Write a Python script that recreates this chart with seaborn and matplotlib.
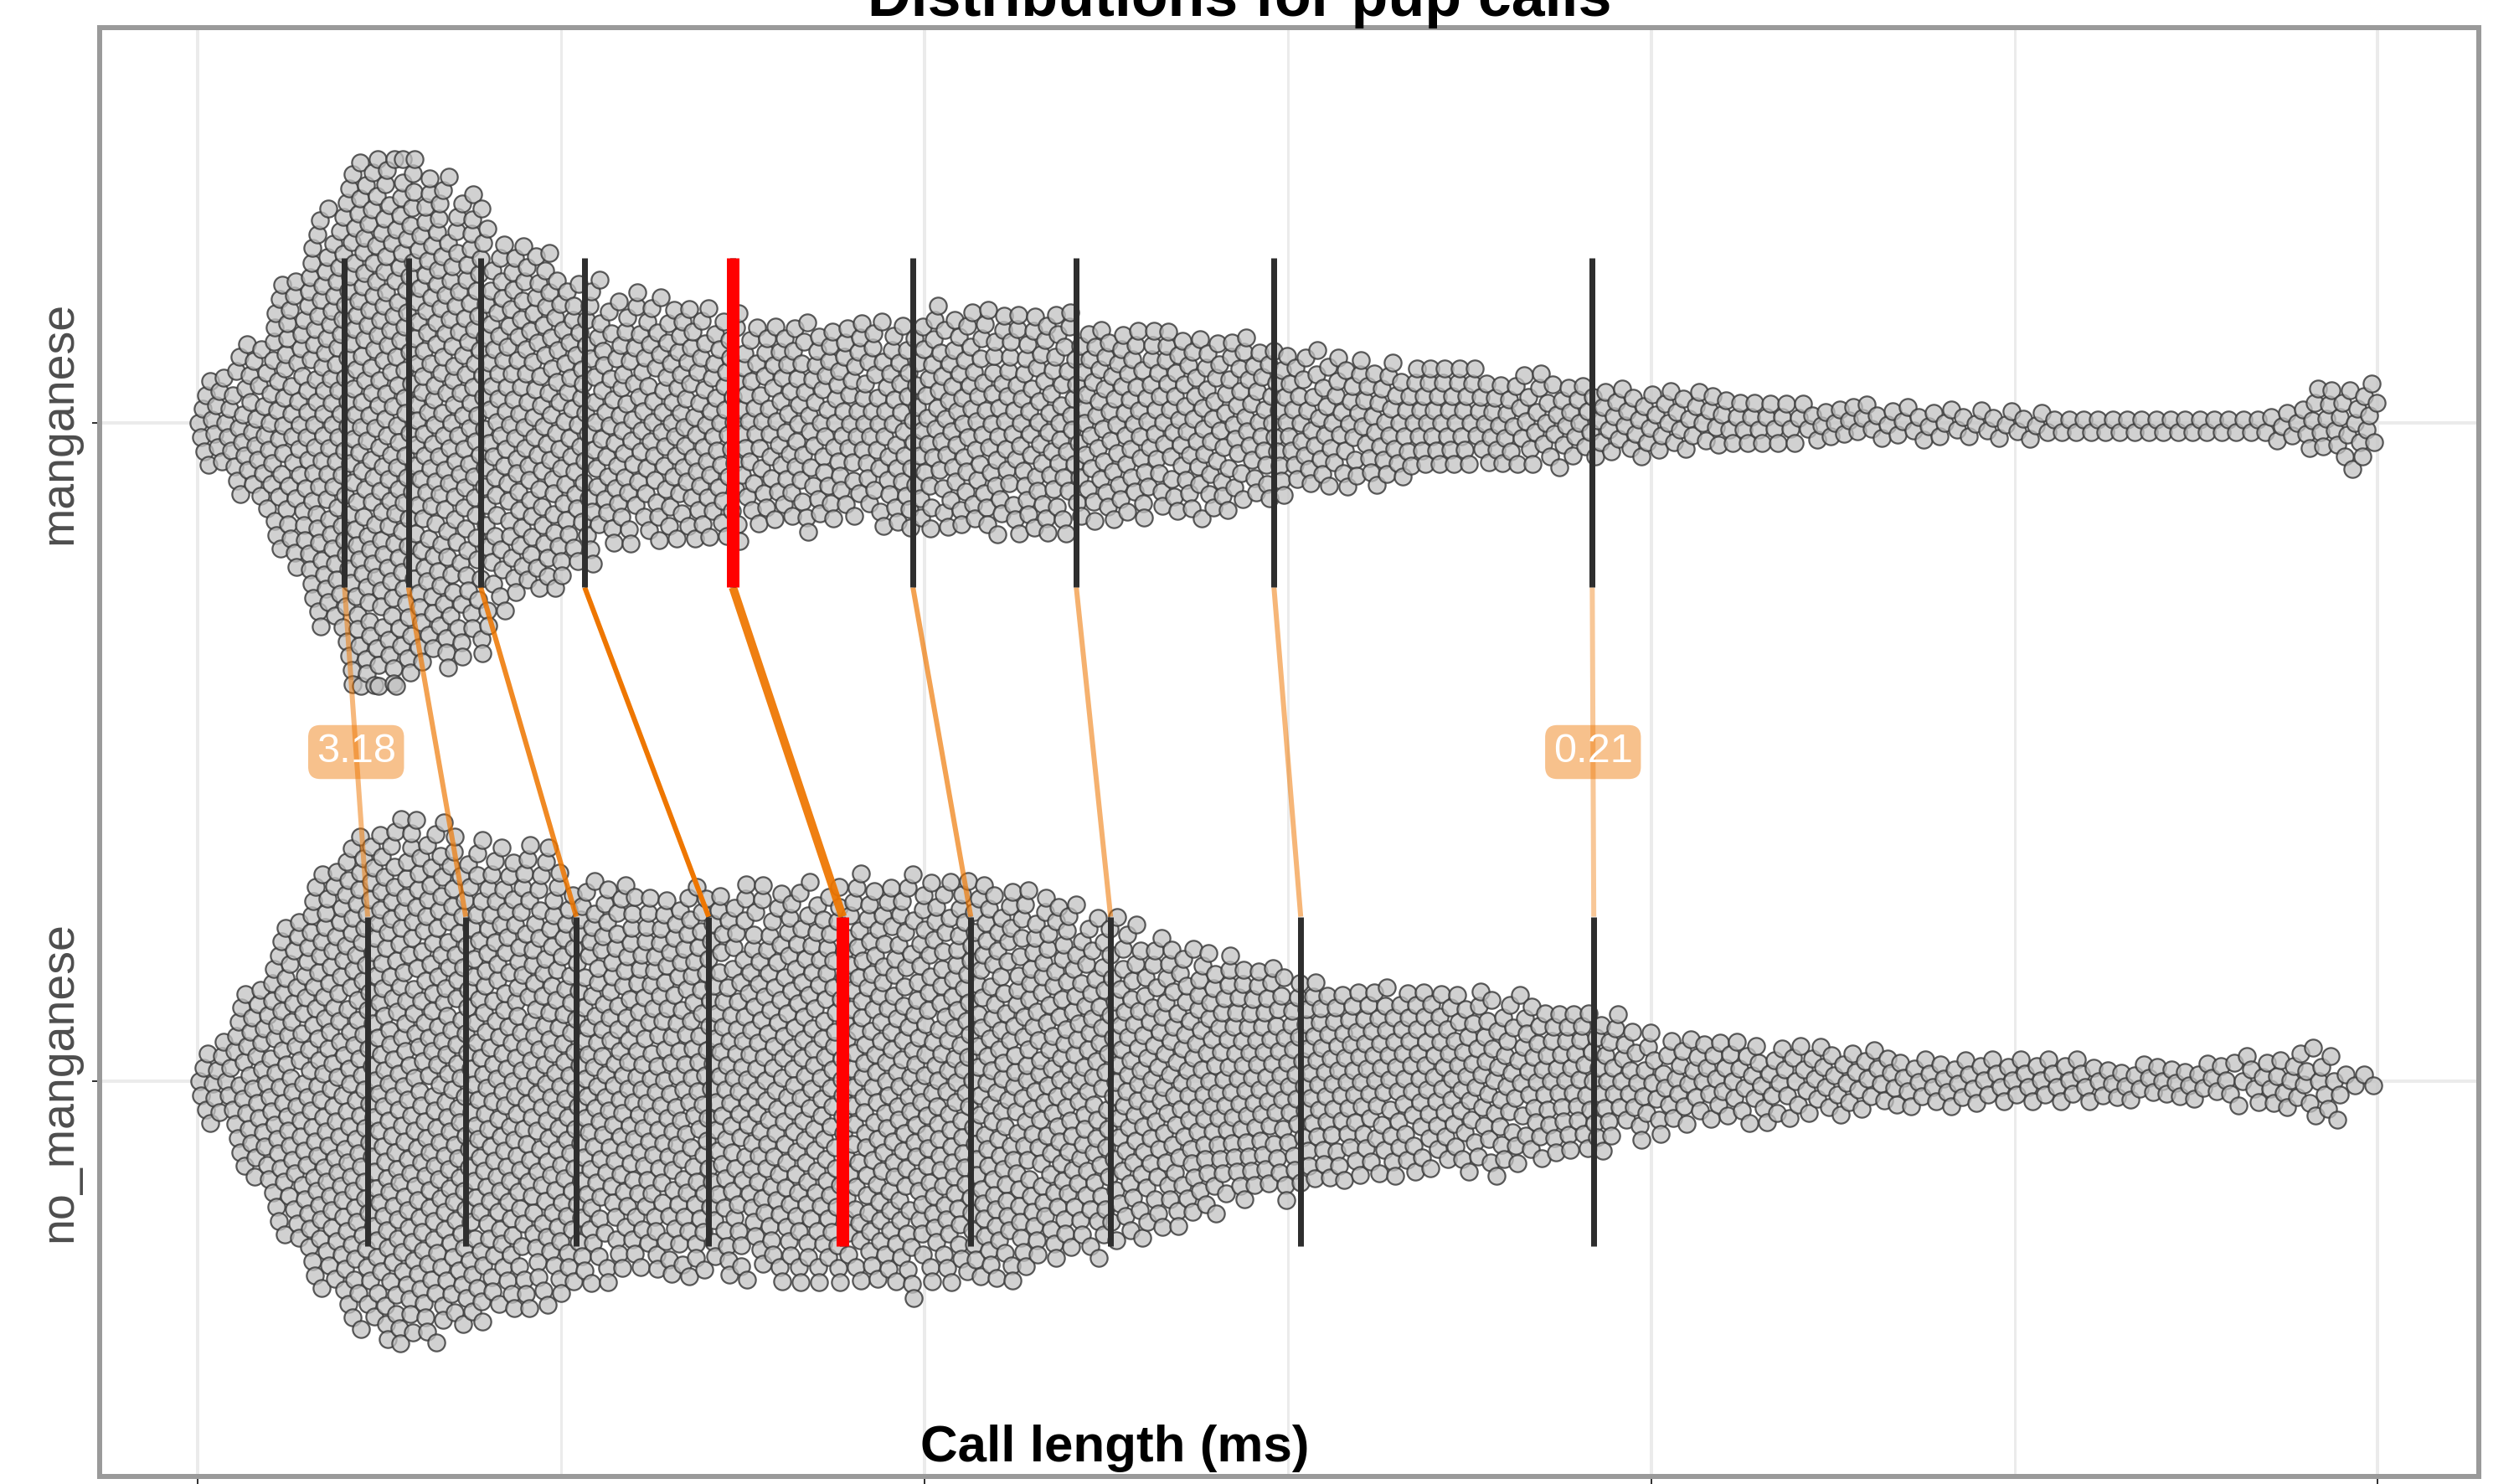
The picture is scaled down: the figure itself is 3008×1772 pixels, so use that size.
import numpy as np
import pandas as pd
import matplotlib
matplotlib.use("Agg")
import matplotlib.pyplot as plt
import seaborn as sns

# ---------------- data ----------------
groups = ["manganese", "no_manganese"]
title_text = "Distributions for pup calls"
xlabel_text = "Call length (ms)"
x_major_ticks = [0, 100, 200, 300]
x_minor_ticks = [50, 150, 250]

bin_width_ms = 5  # counts of calls per 5 ms bin, 0-300 ms
counts_manganese = [19, 30, 52, 79, 102, 101, 92, 83, 67, 62,
                    52, 44, 44, 44, 42, 36, 37, 36, 36, 38,
                    40, 40, 40, 40, 36, 35, 34, 33, 31, 29,
                    25, 24, 23, 21, 20, 18, 17, 16, 14, 13,
                    12, 11, 10, 9, 8, 8, 7, 7, 6, 6,
                    6, 5, 5, 5, 5, 5, 5, 7, 13, 15]
counts_no_manganese = [16, 37, 60, 80, 95, 99, 96, 90, 86, 84,
                       76, 72, 71, 72, 71, 70, 71, 71, 73, 74,
                       73, 75, 71, 66, 62, 58, 53, 50, 46, 43,
                       40, 37, 36, 35, 33, 32, 30, 28, 26, 20,
                       17, 16, 15, 14, 13, 12, 11, 10, 10, 9,
                       9, 9, 8, 8, 8, 8, 9, 11, 12, 4]

deciles_manganese = [20.2, 29.0, 38.95, 53.25, 73.64, 98.42, 120.9, 148.1, 191.9]
deciles_no_manganese = [23.38, 36.88, 52.09, 70.3, 88.74, 106.38, 125.62, 151.78, 192.11]


def expand(counts):
    vals = []
    for k, c in enumerate(counts):
        if c > 0:
            vals.append(k * bin_width_ms + (np.arange(c) + 0.5) * bin_width_ms / c)
    return np.concatenate(vals)


df = pd.DataFrame({
    "length": np.r_[expand(counts_manganese), expand(counts_no_manganese)],
    "group": [groups[0]] * sum(counts_manganese) + [groups[1]] * sum(counts_no_manganese),
})

# ---------------- style ----------------
sns.set_style("white")
plt.rcParams["font.family"] = ["Liberation Sans", "DejaVu Sans"]

DPI = 100
PX = 72 / DPI  # points per pixel
fig = plt.figure(figsize=(30.08, 17.72), dpi=DPI)
ax = fig.add_axes([119 / 3008, 9 / 1772, 2841 / 3008, 1730 / 1772])

place_d = 16.5   # px, spacing used by the swarm algorithm
draw_d = 22.5    # px, drawn marker diameter
edge_lw = 1.3    # pt (placement)
draw_lw = 1.6    # pt (drawn)

sns.swarmplot(data=df, x="length", y="group", order=groups, orient="h", ax=ax,
              size=place_d * PX - edge_lw, color="#d2d2d2", edgecolor="#3a3a3a",
              linewidth=edge_lw, zorder=2, warn_thresh=0.5)
swarms = list(ax.collections)

ax.set_xlim(-13.5, 313.9)
ax.set_ylim(1.6, -0.6)

# decile segments
dark = "#2e2e2e"
for yi, dec in enumerate([deciles_manganese, deciles_no_manganese]):
    ax.vlines(dec, yi - 0.25, yi + 0.25, colors=dark, linewidth=7 * PX,
              capstyle="butt", zorder=4)
    ax.vlines([dec[4]], yi - 0.25, yi + 0.25, colors="#ff0000", linewidth=15 * PX,
              capstyle="butt", zorder=5)

# links between deciles
m = np.array(deciles_manganese)
n = np.array(deciles_no_manganese)
diffs = n - m
amax = np.abs(diffs).max()
link_col = "#EE7600"
for i, (a, b, d) in enumerate(zip(m, n, diffs)):
    alpha = 0.4 + 0.6 * abs(d) / amax
    lw = (10 if i == 4 else 6) * PX
    ax.plot([a, b], [0.25, 0.75], color=link_col, alpha=alpha, lw=lw,
            solid_capstyle="butt", zorder=3.5)

for i in (0, len(diffs) - 1):
    ax.text((m[i] + n[i]) / 2, 0.5, f"{diffs[i]:.2f}", ha="center", va="center",
            color="white", fontsize=35,
            bbox=dict(boxstyle="round,pad=0.2,rounding_size=0.3",
                      fc=(0.933, 0.463, 0.0, 0.45), ec="none"),
            zorder=6)

# grid & ticks
ax.set_xticks(x_major_ticks)
ax.set_xticks(x_minor_ticks, minor=True)
ax.grid(True, which="major", color="#ebebeb", lw=4 * PX)
ax.grid(True, which="minor", axis="x", color="#ebebeb", lw=3 * PX)
ax.set_axisbelow(True)
ax.tick_params(axis="x", which="major", bottom=True, length=9 * PX, width=2 * PX,
               color="#333333", labelbottom=False)
ax.tick_params(axis="x", which="minor", bottom=False, length=0)
ax.tick_params(axis="y", left=True, length=9 * PX, width=2 * PX, color="#333333",
               labelsize=40, labelcolor="#4d4d4d", pad=9)
for lab in ax.get_yticklabels():
    lab.set_rotation(90)
    lab.set_va("center")

for sp in ax.spines.values():
    sp.set_visible(True)
    sp.set_color("#9a9a9a")
    sp.set_linewidth(6 * PX)

ax.set_ylabel("")
ax.set_xlabel(xlabel_text, fontsize=44.6, fontweight="bold", color="black")
ax.xaxis.label.set_va("baseline")
ax.xaxis.set_label_coords(0.4266, 0.0104)

fig.text(1480 / 3008, 1 - 19 / 1772, title_text, ha="center", va="baseline",
         fontsize=51.6, fontweight="bold", color="black")

# compute swarm positions once, then enlarge the markers so they overlap
fig.canvas.draw()
for pc in swarms:
    if "draw" in pc.__dict__:
        del pc.draw
    pc.set_sizes([(draw_d * PX - draw_lw) ** 2])
    pc.set_linewidth(draw_lw)
    pc.set_alpha(None)
    pc.set_facecolor((0.76, 0.76, 0.76, 0.75))
    pc.set_edgecolor((0.24, 0.24, 0.24, 0.85))

fig.savefig("out.png", dpi=DPI)
